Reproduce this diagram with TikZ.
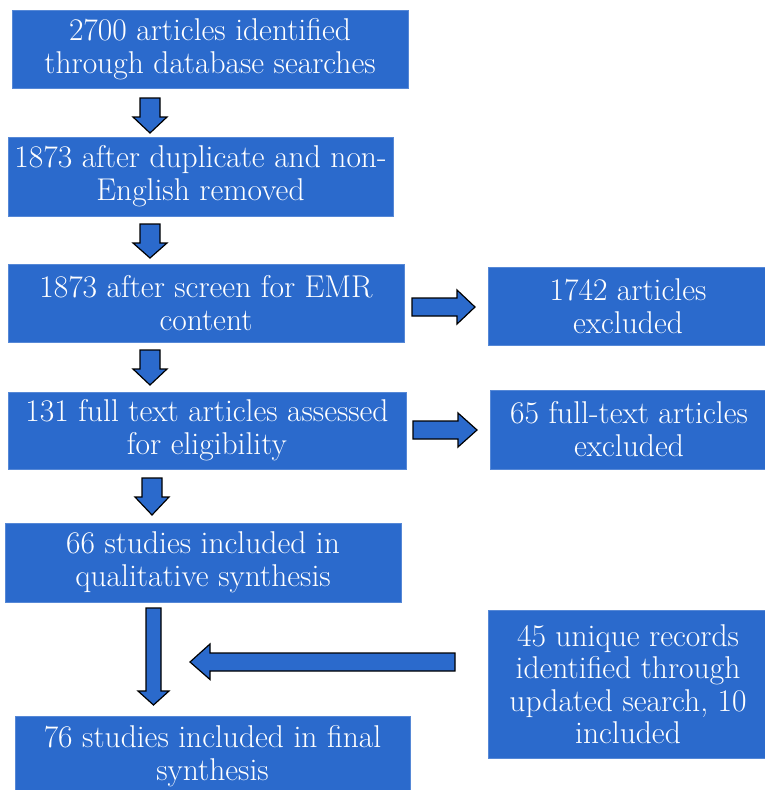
\documentclass[tikz,border=0pt]{standalone}
\definecolor{boxblue}{RGB}{43,106,204}
\definecolor{edgeblue}{RGB}{86,136,214}
\begin{document}
\begin{tikzpicture}[x=1pt,y=-1pt,
  box/.style={fill=boxblue,draw=edgeblue,line width=0.8pt,text=white,align=center,
    inner sep=0pt,font=\fontsize{31.5}{33}\selectfont},
  barrow/.style={fill=boxblue,draw=black,line width=1.2pt,line join=miter}]
\useasboundingbox (0,0) rectangle (765,790);
\clip (0,0) rectangle (765,790);
% boxes
\node[box,minimum width=396pt,minimum height=78pt] (b1) at (210,49) {2700 articles identified\\through database searches};
\node[box,minimum width=385pt,minimum height=79pt] (b2) at (200.5,176.5) {1873 after duplicate and non-\\English removed};
\node[box,minimum width=396pt,minimum height=78pt] (b3) at (206,303) {1873 after screen for EMR\\content};
\node[box,minimum width=280pt,minimum height=78pt] (r1) at (628,306) {1742 articles\\excluded};
\node[box,minimum width=398pt,minimum height=77pt] (b4) at (207,430.5) {131 full text articles assessed\\for eligibility};
\node[box,minimum width=278pt,minimum height=79pt] (r2) at (629,429.5) {65 full-text articles\\excluded};
\node[box,minimum width=396pt,minimum height=79pt] (b5) at (203,562.5) {66 studies included in\\qualitative synthesis};
\node[box,minimum width=280pt,minimum height=148pt,font=\fontsize{31.5}{32.5}\selectfont] (r3) at (628,684) {45 unique records\\identified through\\updated search, 10\\included};
\node[box,minimum width=395pt,minimum height=80pt] (b6) at (212.5,756) {76 studies included in final\\synthesis};
% down block arrows
\foreach \cx/\top/\hs/\tip in {150/98/117/133, 150/224/243/258, 150/350/369/385, 152/478/497/515}{
  \draw[barrow] (\cx-10,\top) -- (\cx+10,\top) -- (\cx+10,\hs) -- (\cx+17,\hs) -- (\cx,\tip)
    -- (\cx-17,\hs) -- (\cx-10,\hs) -- cycle;
}
% long down arrow
\draw[barrow] (146,608) -- (161,608) -- (161,691) -- (169,691) -- (153.5,705) -- (138,691) -- (146,691) -- cycle;
% right block arrows
\foreach \cy/\tail/\hs/\tip in {307/412/457/475, 430/413/458/477}{
  \draw[barrow] (\tail,\cy-9) -- (\hs,\cy-9) -- (\hs,\cy-17) -- (\tip,\cy) -- (\hs,\cy+17)
    -- (\hs,\cy+9) -- (\tail,\cy+9) -- cycle;
}
% left block arrow
\draw[barrow] (455,653) -- (210,653) -- (210,644) -- (190,662) -- (210,679.5) -- (210,671) -- (455,671) -- cycle;
\end{tikzpicture}
\end{document}
